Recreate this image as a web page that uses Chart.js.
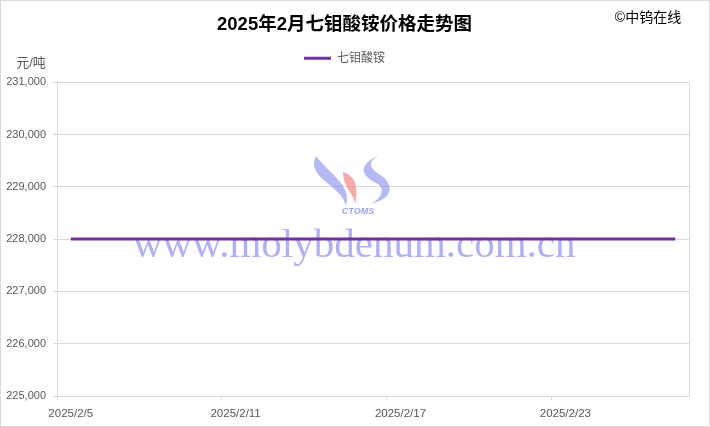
<!DOCTYPE html>
<html>
<head>
<meta charset="utf-8">
<script src="https://cdn.jsdelivr.net/npm/chart.js@4"></script>
<style>
  html, body { margin: 0; padding: 0; background: #fff; }
  #box { width: 710px; height: 427px; }
</style>
</head>
<body>
<div id="box"><canvas id="myChart" width="710" height="427"></canvas></div>
<script>
"use strict";

// one entry per calendar day, 2025/2/5 .. 2025/2/27
let dates = [
  "2025/2/5", "2025/2/6", "2025/2/7", "2025/2/8", "2025/2/9", "2025/2/10",
  "2025/2/11", "2025/2/12", "2025/2/13", "2025/2/14", "2025/2/15", "2025/2/16",
  "2025/2/17", "2025/2/18", "2025/2/19", "2025/2/20", "2025/2/21", "2025/2/22",
  "2025/2/23", "2025/2/24", "2025/2/25", "2025/2/26", "2025/2/27"
];
let prices = [
  228000, 228000, 228000, 228000, 228000, 228000,
  228000, 228000, 228000, 228000, 228000, 228000,
  228000, 228000, 228000, 228000, 228000, 228000,
  228000, 228000, 228000, 228000, 228000
];
let seriesName = "七钼酸铵";
let chartTitle = "2025年2月七钼酸铵价格走势图";
let yMin = 225000;
let yMax = 231000;
let yStep = 1000;
let labelEvery = 6;

let gridGray = "#d9d9d9";
let textGray = "#595959";
let cjk = "'Liberation Sans', 'Noto Sans CJK SC', sans-serif";

// frame, plot border, unit, copyright and the site watermark
let decorations = {
  id: "decorations",
  beforeDatasetsDraw(chart) {
    let ctx = chart.ctx;
    ctx.save();
    // logo
    ctx.fillStyle = "rgba(120,128,235,0.55)";
    ctx.beginPath();
    ctx.moveTo(316, 156);
    ctx.bezierCurveTo(305, 178, 342, 185, 346, 206);
    ctx.bezierCurveTo(352, 186, 332, 176, 316, 156);
    ctx.fill();
    ctx.fillStyle = "rgba(245,140,140,0.75)";
    ctx.beginPath();
    ctx.moveTo(343, 172);
    ctx.bezierCurveTo(360, 178, 356, 192, 356, 204);
    ctx.bezierCurveTo(352, 192, 343, 186, 343, 172);
    ctx.fill();
    ctx.fillStyle = "rgba(120,128,235,0.55)";
    ctx.beginPath();
    ctx.moveTo(378, 156);
    ctx.bezierCurveTo(356, 166, 362, 176, 378, 184);
    ctx.bezierCurveTo(386, 190, 380, 200, 370, 204);
    ctx.bezierCurveTo(396, 198, 392, 184, 382, 176);
    ctx.bezierCurveTo(368, 168, 368, 162, 378, 156);
    ctx.fill();
    ctx.fillStyle = "rgba(120,128,235,0.7)";
    ctx.font = "italic bold 9px 'Liberation Sans', sans-serif";
    ctx.textAlign = "center";
    ctx.textBaseline = "middle";
    ctx.fillText("CTOMS", 358, 212);
    // site text
    ctx.fillStyle = "rgba(125,125,232,0.6)";
    ctx.font = "41px 'Liberation Serif', serif";
    ctx.textAlign = "left";
    ctx.textBaseline = "alphabetic";
    ctx.fillText("www.molybdenum.com.cn", 133, 257);
    ctx.restore();
  },
  afterDraw(chart) {
    let ctx = chart.ctx;
    let a = chart.chartArea;
    ctx.save();
    ctx.strokeStyle = gridGray;
    ctx.lineWidth = 1;
    ctx.beginPath();
    ctx.moveTo(Math.round(a.right) + 0.5, a.top);
    ctx.lineTo(Math.round(a.right) + 0.5, a.bottom);
    ctx.stroke();
    ctx.strokeRect(0.5, 0.5, chart.width - 1, chart.height - 1);
    ctx.fillStyle = textGray;
    ctx.font = "13px " + cjk;
    ctx.textAlign = "center";
    ctx.textBaseline = "middle";
    ctx.fillText("元/吨", 31, 63);
    ctx.fillStyle = "#000";
    ctx.font = "14px " + cjk;
    ctx.fillText("©中钨在线", 648, 18);
    ctx.restore();
  }
};

let ctx = document.getElementById("myChart").getContext("2d");
let myChart = new Chart(ctx, {
  type: "line",
  data: {
    labels: dates,
    datasets: [{
      label: seriesName,
      data: prices,
      borderColor: "#7030a0",
      backgroundColor: "#7030a0",
      borderWidth: 3,
      pointRadius: 0,
      pointStyle: "line",
      tension: 0
    }]
  },
  options: {
    responsive: false,
    animation: false,
    layout: { padding: { left: 0, right: 21, top: 0, bottom: 0 } },
    plugins: {
      title: {
        display: true,
        text: chartTitle,
        color: "#000",
        font: { family: cjk, size: 18.5, weight: "bold" },
        padding: { top: 14, bottom: 0 }
      },
      legend: {
        display: true,
        position: "top",
        labels: {
          color: textGray,
          font: { family: cjk, size: 12 },
          usePointStyle: true,
          pointStyleWidth: 27,
          boxHeight: 12,
          padding: 16
        }
      },
      tooltip: { enabled: false }
    },
    scales: {
      x: {
        type: "category",
        offset: true,
        grid: {
          display: true,
          offset: true,
          drawOnChartArea: false,
          tickLength: 4,
          color: (c) => (c.index % labelEvery === 0 ? gridGray : "rgba(0,0,0,0)")
        },
        border: { color: gridGray },
        ticks: {
          autoSkip: false,
          maxRotation: 0,
          color: textGray,
          padding: 7,
          font: { family: cjk, size: 11.5 },
          callback: function (v, i) {
            return i % labelEvery === 0 ? dates[i] : "";
          }
        },
        afterFit: function (scale) { scale.height = 31; }
      },
      // empty top band that keeps the plot below the legend
      xTop: {
        type: "category",
        position: "top",
        grid: { display: false },
        border: { display: false },
        ticks: { display: false },
        afterFit: function (scale) { scale.height = 8; }
      },
      y: {
        min: yMin,
        max: yMax,
        grid: { color: gridGray, tickLength: 4 },
        border: { color: gridGray },
        ticks: {
          stepSize: yStep,
          color: textGray,
          padding: 7,
          font: { family: cjk, size: 11 },
          callback: (v) => v.toLocaleString("en-US")
        },
        afterFit: function (scale) { scale.width = 57; }
      }
    }
  },
  plugins: [decorations]
});
</script>
</body>
</html>
